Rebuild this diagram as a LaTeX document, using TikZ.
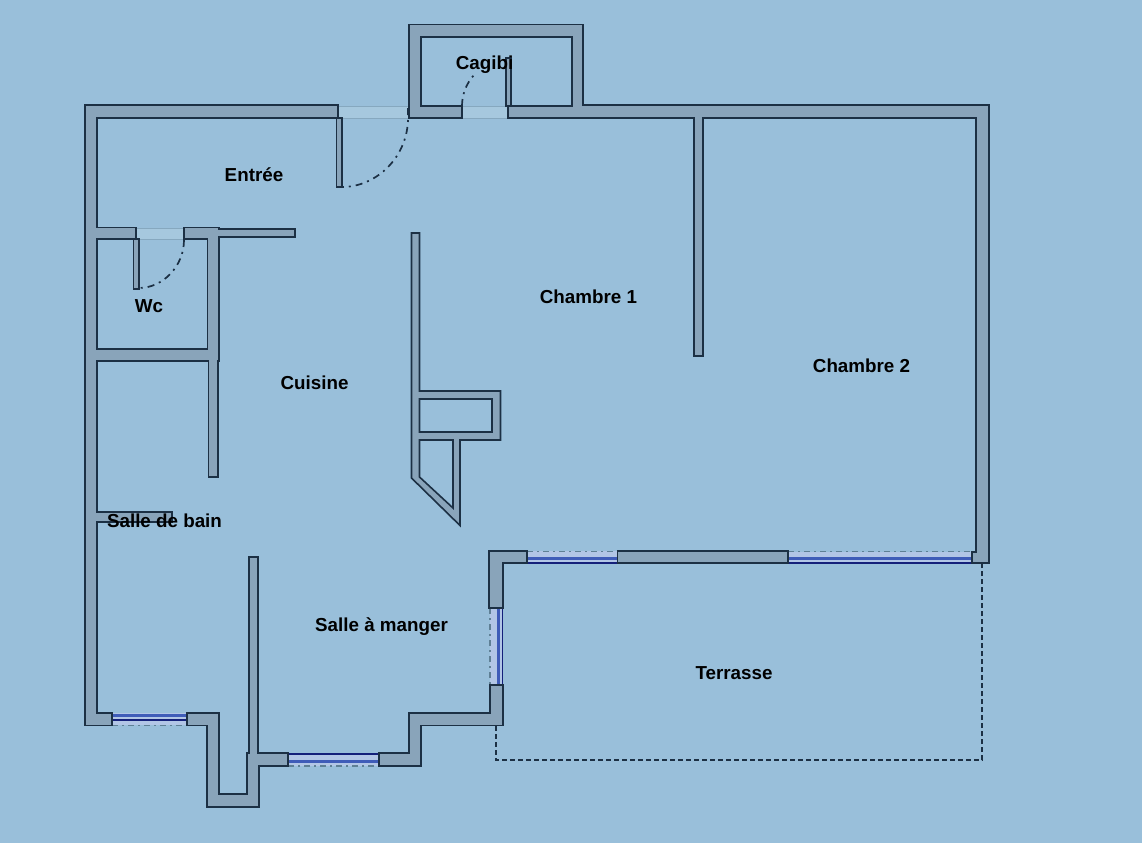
\documentclass[tikz,border=0pt]{standalone}
\usepackage{fontspec}
\setmainfont{Liberation Sans}
\definecolor{bgc}{HTML}{99BFDA}
\definecolor{wallc}{HTML}{89A4BA}
\definecolor{edgec}{HTML}{1C3044}
\definecolor{gapc}{HTML}{A6C8DE}
\definecolor{gapl}{HTML}{86A8BF}
\definecolor{glassc}{HTML}{B2C6E6}
\definecolor{paneb}{HTML}{3F5CB8}
\definecolor{panel}{HTML}{14207A}
\definecolor{sillc}{HTML}{5F8095}
\tikzset{
  wall/.style={fill=wallc,draw=edgec,line width=1.6pt,line join=miter},
  gapband/.style={fill=gapc,draw=gapl,line width=.7pt},
  glass/.style={fill=glassc,draw=none},
  thickpane/.style={draw=paneb,line width=3pt},
  thinpane/.style={draw=panel,line width=1.4pt},
  sill/.style={draw=sillc,line width=1.2pt,dash pattern=on 6pt off 4pt on 2pt off 4pt},
  swing/.style={draw=edgec,line width=1.7pt,dash pattern=on 7pt off 5pt on 2pt off 5pt},
  terr/.style={draw=edgec,line width=1.6pt,dash pattern=on 5pt off 3pt},
  room/.style={font=\bfseries\fontsize{18.8}{21}\selectfont,text=black,inner sep=0pt}
}
\begin{document}
\begin{tikzpicture}[x=1pt,y=-1pt]
\useasboundingbox (0,0) rectangle (1142,843);
\fill[bgc] (0,0) rectangle (1142,843);
% door gaps
\draw[gapband] (338,106) rectangle (409,118);
\draw[gapband] (462,106) rectangle (508,118);
\draw[gapband] (136,228) rectangle (184,239);
% windows
\fill[glass] (112,713) rectangle (187,725);
\draw[thickpane] (112,715) -- (187,715);
\draw[thinpane] (112,720) -- (187,720);
\draw[sill] (112,725.5) -- (187,725.5);
\fill[glass] (288,753) rectangle (379,766);
\draw[thinpane] (288,754) -- (379,754);
\draw[thickpane] (288,761) -- (379,761);
\draw[sill] (288,766) -- (379,766);
\fill[glass] (527,551) rectangle (618,563);
\draw[thickpane] (527,558) -- (618,558);
\draw[thinpane] (527,563) -- (618,563);
\draw[sill] (527,551.5) -- (618,551.5);
\fill[glass] (788,552) rectangle (973,563);
\draw[thickpane] (788,558) -- (973,558);
\draw[thinpane] (788,563) -- (973,563);
\draw[sill] (788,551.5) -- (973,551.5);
\fill[glass] (490,608) rectangle (503,685);
\draw[thickpane] (498,608) -- (498,685);
\draw[thinpane] (502.5,608) -- (502.5,685);
\draw[sill] (490,608) -- (490,685);
% terrace
\draw[terr] (496,726) -- (496,760) -- (982,760) -- (982,563);
% walls
\draw[wall] (85,105) -- (338,105) -- (338,118) -- (97,118) -- (97,227.5) -- (136,227.5) -- (136,239) -- (97,239) -- (97,349) -- (207.5,349) -- (207.5,239) -- (184,239) -- (184,227.5) -- (219,227.5) -- (219,229) -- (295,229) -- (295,237) -- (219,237) -- (219,361) -- (218,361) -- (218,477) -- (208.5,477) -- (208.5,361) -- (97,361) -- (97,512) -- (172,512) -- (172,522) -- (97,522) -- (97,713) -- (112,713) -- (112,725.5) -- (85,725.5) -- cycle;
\draw[wall] (187,713) -- (219,713) -- (219,794) -- (247,794) -- (247,753) -- (249,753) -- (249,557) -- (258,557) -- (258,753) -- (288,753) -- (288,766) -- (259,766) -- (259,807) -- (207,807) -- (207,725.5) -- (187,725.5) -- cycle;
\draw[wall] (379,753) -- (409,753) -- (409,713) -- (490,713) -- (490,685) -- (503,685) -- (503,725.5) -- (421,725.5) -- (421,766) -- (379,766) -- cycle;
\draw[wall] (489,551) -- (527,551) -- (527,563) -- (503,563) -- (503,608) -- (489,608) -- cycle;
\draw[wall] (617.5,551) -- (788,551) -- (788,563) -- (617.5,563) -- cycle;
\draw[wall] (972,563) -- (972,552) -- (976,552) -- (976,118) -- (703,118) -- (703,356) -- (694,356) -- (694,118) -- (508,118) -- (508,106) -- (572,106) -- (572,37) -- (421,37) -- (421,106) -- (462,106) -- (462,118) -- (409,118) -- (409,24.5) -- (583,24.5) -- (583,105) -- (989,105) -- (989,563) -- cycle;
% central block
\draw[wall,even odd rule] (411.5,233) -- (419.5,233) -- (419.5,391) -- (500.5,391) -- (500.5,440) -- (460,440) -- (460,525.5) -- (411.5,478) -- cycle
  (419.5,399) rectangle (492,432)
  (419.5,440) -- (453,440) -- (453,508) -- (419.5,477) -- cycle;
% door leaves
\draw[wall] (336.5,118) rectangle (342,187);
\draw[wall] (506,58) rectangle (511,106);
\draw[wall] (133.5,239) rectangle (139,289);
% door swings
\draw[swing] (408,108) -- (408,118) .. controls (408,156.7) and (376.7,187) .. (342,187);
\draw[swing] (462,106) .. controls (462,94.6) and (466.2,83.7) .. (473.8,75.2);
\draw[swing] (184,240) .. controls (184,266.5) and (162.5,288) .. (139,288);
% labels
\node[room] (entree) at (254,174.5) {Entrée};
\node[room] (cagibi) at (484.5,64.5) {Cagibi};
\node[room] (wc) at (149,306.5) {Wc};
\node[room] (ch1) at (588.5,296.5) {Chambre 1};
\node[room] (ch2) at (861.5,365.5) {Chambre 2};
\node[room] (cuisine) at (314.5,382.5) {Cuisine};
\node[room] (sdb) at (164.5,521) {Salle de bain};
\node[room] (sam) at (381.5,626.5) {Salle à manger};
\node[room] (terrasse) at (734,673.5) {Terrasse};
\end{tikzpicture}
\end{document}
